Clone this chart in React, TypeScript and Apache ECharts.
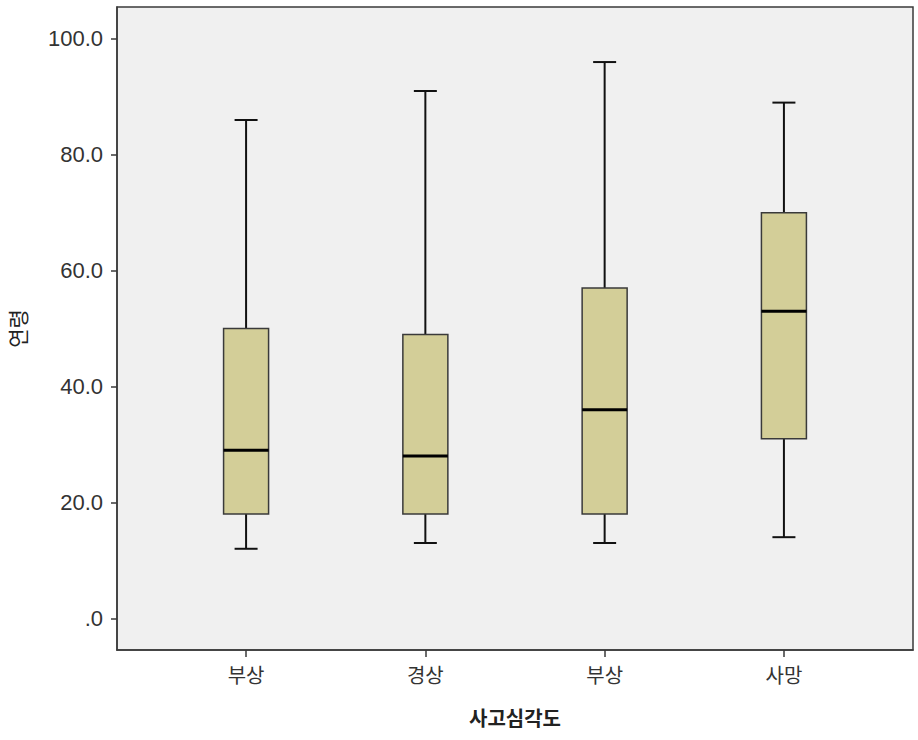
import React, { useEffect, useRef } from "react";
import * as echarts from "echarts";

const categories = ["부상", "경상", "부상", "사망"];
const positions = [1, 2, 3, 4];
const mins = [12, 13, 13, 14];
const q1s = [18, 18, 18, 31];
const medians = [29, 28, 36, 53];
const q3s = [50, 49, 57, 70];
const maxs = [86, 91, 96, 89];
const yTicks = [0, 20, 40, 60, 80, 100];

export default function App() {
  const ref = useRef<HTMLDivElement>(null);
  useEffect(() => {
    if (!ref.current) return;
    const chart = echarts.init(ref.current, null, { renderer: "svg" });
    const data = positions.map((p, i) => [p, mins[i], q1s[i], medians[i], q3s[i], maxs[i]]);
    const labelFont = "'Liberation Sans', Arial, sans-serif";
    const krFont = "'Noto Sans CJK KR', sans-serif";
    chart.setOption({
      animation: false,
      grid: {
        left: 117,
        top: 7,
        right: 5,
        bottom: 90,
        outerBoundsMode: "none",
        containLabel: false,
        show: true,
        backgroundColor: "#f0f0f0",
        borderColor: "#3a3a3a",
        borderWidth: 1.5,
      },
      xAxis: {
        type: "value",
        min: 0.28,
        max: 4.72,
        splitLine: { show: false },
        axisLine: { show: true, onZero: false, lineStyle: { color: "#3a3a3a", width: 1.5 } },
        axisTick: { show: true, customValues: positions, length: 7, lineStyle: { color: "#3a3a3a", width: 1.5 } },
        axisLabel: {
          customValues: positions,
          formatter: (v: number) => categories[Math.round(v) - 1] ?? "",
          fontFamily: krFont,
          fontSize: 20,
          color: "#333",
          margin: 14,
        },
        name: "사고심각도",
        nameLocation: "middle",
        nameGap: 57,
        nameTextStyle: { fontFamily: krFont, fontSize: 20, fontWeight: "bold", color: "#222" },
      },
      yAxis: {
        type: "value",
        min: -5.47,
        max: 105.5,
        splitLine: { show: false },
        axisLine: { show: true, onZero: false, lineStyle: { color: "#3a3a3a", width: 1.5 } },
        axisTick: { show: true, customValues: yTicks, length: 6, lineStyle: { color: "#3a3a3a", width: 1.5 } },
        axisLabel: {
          customValues: yTicks,
          formatter: (v: number) => (v === 0 ? ".0" : v.toFixed(1)),
          fontFamily: labelFont,
          fontSize: 22,
          color: "#333",
          margin: 14,
        },
        name: "연령",
        nameLocation: "middle",
        nameGap: 90,
        nameTextStyle: { fontFamily: krFont, fontSize: 21, color: "#222" },
      },
      series: [
        {
          type: "custom",
          data,
          encode: { x: 0, y: [1, 2, 3, 4, 5] },
          renderItem: (params: any, api: any) => {
            const x = api.value(0);
            const pMin = api.coord([x, api.value(1)]);
            const pQ1 = api.coord([x, api.value(2)]);
            const pMed = api.coord([x, api.value(3)]);
            const pQ3 = api.coord([x, api.value(4)]);
            const pMax = api.coord([x, api.value(5)]);
            const cx = pMin[0];
            const boxHalf = 22.5;
            const capHalf = 11.5;
            const whisk = { stroke: "#111", lineWidth: 2 };
            return {
              type: "group",
              children: [
                { type: "line", shape: { x1: cx, y1: pQ3[1], x2: cx, y2: pMax[1] }, style: whisk },
                { type: "line", shape: { x1: cx, y1: pQ1[1], x2: cx, y2: pMin[1] }, style: whisk },
                { type: "line", shape: { x1: cx - capHalf, y1: pMax[1], x2: cx + capHalf, y2: pMax[1] }, style: whisk },
                { type: "line", shape: { x1: cx - capHalf, y1: pMin[1], x2: cx + capHalf, y2: pMin[1] }, style: whisk },
                {
                  type: "rect",
                  shape: { x: cx - boxHalf, y: pQ3[1], width: boxHalf * 2, height: pQ1[1] - pQ3[1] },
                  style: { fill: "#d3ce98", stroke: "#3a3a3a", lineWidth: 1.5 },
                },
                {
                  type: "line",
                  shape: { x1: cx - boxHalf, y1: pMed[1], x2: cx + boxHalf, y2: pMed[1] },
                  style: { stroke: "#000", lineWidth: 3 },
                },
              ],
            };
          },
        },
      ],
    });
    return () => chart.dispose();
  }, []);
  return <div ref={ref} style={{ position: "absolute", left: 0, top: 0, width: 918, height: 740 }} />;
}
